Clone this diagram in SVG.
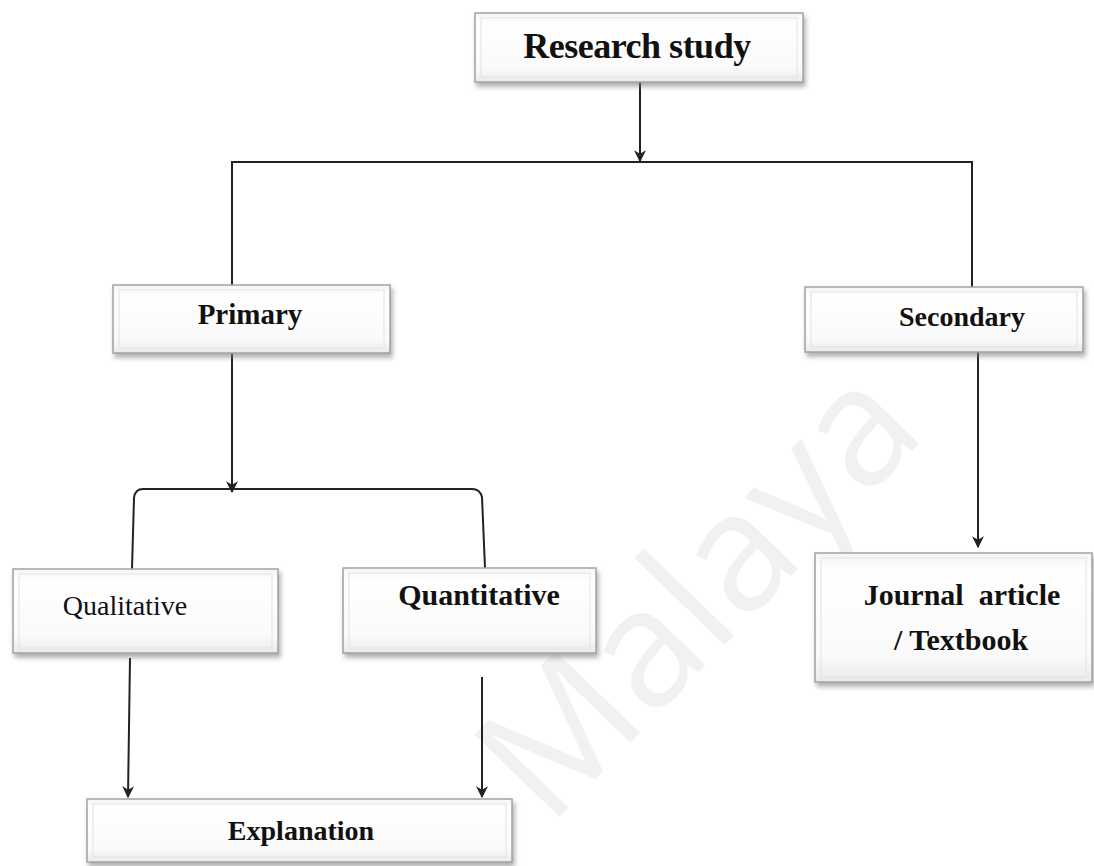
<svg xmlns="http://www.w3.org/2000/svg" width="1094" height="866" viewBox="0 0 1094 866">
  <defs>
    <linearGradient id="boxFill" x1="0" y1="0" x2="0" y2="1">
      <stop offset="0" stop-color="#f5f5f5"/>
      <stop offset="0.15" stop-color="#ffffff"/>
      <stop offset="0.8" stop-color="#fafafa"/>
      <stop offset="1" stop-color="#eaeaea"/>
    </linearGradient>
    <filter id="shadow" x="-10%" y="-20%" width="125%" height="150%">
      <feDropShadow dx="2" dy="4" stdDeviation="2.5" flood-color="#7a7a7a" flood-opacity="0.6"/>
    </filter>
    <marker id="arrow" viewBox="0 0 10 10" refX="9" refY="5" markerWidth="6" markerHeight="6" orient="auto" markerUnits="strokeWidth">
      <path d="M0,0 L10,5 L0,10 L3,5 z" fill="#222"/>
    </marker>
    <style>
      .box { fill: url(#boxFill); stroke: #a3a3a3; stroke-width: 1.5; filter: url(#shadow); }
      .inset { fill: none; stroke: #e2e2e2; stroke-width: 1; }
      .lbl { font-family: "Liberation Serif", "Times New Roman", serif; fill: #111; text-anchor: middle; }
      .b { font-weight: bold; }
      .wire { fill: none; stroke: #222; stroke-width: 2; }
      .mark { font-family: "Open Sans", "Liberation Sans", sans-serif; fill: #f1f1f1; }
    </style>
  </defs>

  <rect width="1094" height="866" fill="#ffffff"/>

  <!-- faint background lettering -->
  <text class="mark" x="0" y="0" font-size="165" transform="translate(548,828) rotate(-46)">Malaya</text>

  <!-- connectors -->
  <g id="connectors">
    <line class="wire" x1="640" y1="82" x2="640" y2="161" marker-end="url(#arrow)"/>
    <path class="wire" d="M232,285 L232,162 L972,162 L972,287"/>
    <line class="wire" x1="232" y1="353" x2="232" y2="492" marker-end="url(#arrow)"/>
    <path class="wire" d="M132,569 L134,498 Q135,489 143,489 L472,489 Q480,489 482,497 L485,568"/>
    <line class="wire" x1="978" y1="352" x2="978" y2="547" marker-end="url(#arrow)"/>
    <line class="wire" x1="130" y1="658" x2="128" y2="797" marker-end="url(#arrow)"/>
    <line class="wire" x1="482" y1="677" x2="482" y2="797" marker-end="url(#arrow)"/>
  </g>

  <g id="node-research-study">
    <rect class="box" x="475" y="13" width="328" height="69"/>
    <rect class="inset" x="481" y="18" width="316" height="59"/>
    <text class="lbl b" x="637" y="58" font-size="36" letter-spacing="-0.5">Research study</text>
  </g>

  <g id="node-primary">
    <rect class="box" x="113" y="285" width="277" height="68"/>
    <rect class="inset" x="119" y="290" width="265" height="58"/>
    <text class="lbl b" x="250" y="324" font-size="29">Primary</text>
  </g>

  <g id="node-secondary">
    <rect class="box" x="805" y="287" width="278" height="65"/>
    <rect class="inset" x="811" y="292" width="266" height="55"/>
    <text class="lbl b" x="962" y="326" font-size="28">Secondary</text>
  </g>

  <g id="node-qualitative">
    <rect class="box" x="13" y="569" width="265" height="84"/>
    <rect class="inset" x="19" y="574" width="253" height="74"/>
    <text class="lbl" x="125" y="615" font-size="28">Qualitative</text>
  </g>

  <g id="node-quantitative">
    <rect class="box" x="343" y="568" width="253" height="85"/>
    <rect class="inset" x="349" y="573" width="241" height="75"/>
    <text class="lbl b" x="479" y="605" font-size="30">Quantitative</text>
  </g>

  <g id="node-journal">
    <rect class="box" x="815" y="553" width="277" height="129"/>
    <rect class="inset" x="821" y="558" width="265" height="119"/>
    <text class="lbl b" x="962" y="605" font-size="30" xml:space="preserve">Journal  article</text>
    <text class="lbl b" x="961" y="650" font-size="30">/ Textbook</text>
  </g>

  <g id="node-explanation">
    <rect class="box" x="87" y="799" width="425" height="63"/>
    <rect class="inset" x="93" y="804" width="413" height="53"/>
    <text class="lbl b" x="301" y="840" font-size="28">Explanation</text>
  </g>
</svg>
